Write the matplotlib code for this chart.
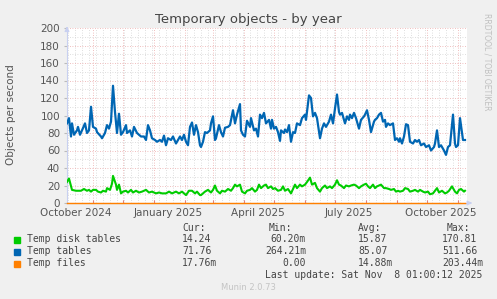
import numpy as np
import pandas as pd
import matplotlib
matplotlib.use("Agg")
from matplotlib import pyplot as plt
import matplotlib.dates as mdates

# munin "by year" view: 400 days (days since start)
start = pd.Timestamp("2024-10-06")
end = pd.Timestamp("2025-11-10")

tables_days = [0, 2, 4, 5, 7, 10, 11, 13, 15, 18, 20, 22, 24, 26, 29, 30, 34, 35, 38, 40,
               42, 44, 46, 48, 50, 52, 54, 56, 59, 60, 63, 65, 67, 70, 72, 74, 77, 79, 81, 83,
               85, 88, 90, 93, 95, 97, 99, 101, 104, 106, 109, 111, 113, 115, 117, 119, 121, 123, 125, 127,
               129, 131, 133,
               134, 136, 138, 140, 143, 144, 146, 148, 149, 152, 154, 156, 158, 161, 163, 166, 168, 170, 173, 174,
               176, 178, 180, 183, 184, 187, 189, 191, 193, 195, 197, 199, 202, 204, 205, 207, 209, 211, 213, 214,
               217, 218, 220, 222, 224, 226, 228, 230, 233, 235, 238, 239, 242, 244, 246, 248, 250, 253, 255, 257,
               259, 262, 264, 266, 268,
               270, 272, 273, 275, 277, 278, 280, 282, 283, 285, 287, 289, 291, 292, 294, 297, 298, 300, 302, 304,
               307, 308, 310, 312, 314, 316, 318, 319, 321, 323, 326, 328, 330, 332, 333, 335, 337, 339, 341, 343,
               346, 348, 350, 352, 354, 357, 359, 362, 364, 367, 368, 370, 372, 374, 377, 379, 381, 383, 386, 388,
               389, 391, 393, 396, 398]
tables = [91, 97, 76, 91, 78, 83, 87, 78, 83, 91, 80, 83, 110, 87, 85, 81, 76, 74, 80, 89,
          85, 93, 134, 104, 80, 102, 78, 81, 89, 80, 83, 76, 87, 80, 78, 76, 76, 72, 89, 83,
          74, 72, 70, 72, 70, 77, 66, 74, 72, 76, 68, 72, 76, 72, 78, 70, 66, 87, 92, 78,
          89, 81, 66,
          64, 70, 81, 80, 83, 91, 99, 72, 74, 89, 81, 76, 86, 87, 89, 106, 91, 101, 113, 83,
          78, 76, 94, 87, 97, 83, 85, 76, 101, 97, 103, 91, 95, 85, 95, 85, 87, 81, 71, 83,
          80, 84, 81, 89, 70, 81, 80, 91, 89, 97, 101, 95, 123, 120, 99, 103, 97, 74, 85, 91,
          87, 93, 101, 91, 108,
          124, 104, 101, 103, 95, 91, 99, 95, 101, 97, 103, 97, 89, 85, 95, 99, 101, 106, 95, 81,
          93, 95, 97, 101, 103, 93, 95, 87, 91, 89, 91, 72, 74, 70, 74, 68, 76, 90, 89, 70,
          68, 72, 70, 72, 66, 68, 64, 66, 60, 64, 68, 83, 64, 66, 60, 55, 64, 66, 101, 68,
          64, 66, 97, 72, 72]

disk_days = [0, 2, 4, 5, 9, 14, 17, 20, 22, 24, 26, 29, 31, 34, 36, 39, 40, 43, 45, 46,
             49, 50, 52, 54, 56, 59, 61, 64, 66, 69, 72, 75, 79, 82, 85, 89, 92, 95, 99, 102,
             105, 109, 112, 115, 119, 122, 125, 128, 130, 133,
             134, 138, 141, 144, 146, 148, 150, 153, 155, 158, 161, 164, 166, 168, 170, 173, 175, 178, 180, 183,
             185, 188, 190, 192, 194, 197, 199, 201, 204, 206, 208, 211, 214, 216, 218, 221, 224, 226, 228, 230,
             233, 235, 238, 240, 243, 245, 248, 250, 253, 255, 258, 260, 263, 265, 268,
             270, 272, 274, 277, 279, 282, 284, 287, 289, 292, 294, 297, 299, 301, 303, 306, 308, 310, 312, 314,
             317, 319, 322, 324, 327, 329, 331, 333, 336, 338, 341, 343, 346, 348, 351, 353, 356, 358, 361, 363,
             366, 368, 370, 372, 375, 378, 380, 382, 385, 388, 390, 392, 394, 397, 398]
disk = [24, 28, 19, 15, 14, 14, 16, 14, 15, 13, 15, 15, 13, 12, 14, 13, 17, 15, 22, 31,
        21, 15, 21, 11, 13, 14, 12, 15, 12, 14, 12, 13, 15, 12, 13, 11, 12, 11, 11, 13,
        11, 13, 11, 13, 9, 14, 14, 11, 13, 9,
        9, 13, 15, 12, 15, 20, 14, 11, 14, 13, 16, 14, 17, 21, 19, 21, 13, 11, 14, 15,
        17, 13, 15, 21, 17, 20, 21, 17, 19, 16, 17, 14, 15, 19, 14, 16, 11, 16, 21, 17,
        21, 19, 21, 24, 29, 21, 23, 17, 13, 17, 20, 17, 19, 17, 21,
        26, 21, 20, 17, 20, 19, 20, 21, 20, 17, 19, 21, 22, 19, 17, 21, 17, 19, 20, 21,
        17, 17, 16, 15, 16, 13, 14, 13, 14, 17, 16, 13, 14, 15, 13, 15, 13, 12, 13, 10,
        11, 14, 17, 12, 14, 11, 12, 14, 19, 13, 11, 15, 16, 13, 14]

# temp files stay at ~0 the whole time
files_days = [0, 398]
files = [0.0, 0.0]

names = ["Temp disk tables", "Temp tables", "Temp files"]
colors = ["#00CC00", "#0066B3", "#FF8000"]
cur = ["14.24", "71.76", "17.76m"]
mins = ["60.20m", "264.21m", "0.00"]
avgs = ["15.87", "85.07", "14.88m"]
maxs = ["170.81", "511.66", "203.44m"]
month_labels = ["October 2024", "January 2025", "April 2025", "July 2025", "October 2025"]
label_dates = ["2024-10-15", "2025-01-15", "2025-04-15", "2025-07-15", "2025-10-15"]


def to_dates(days):
    return start + pd.to_timedelta(days, unit="D")


W, H = 497, 299
fig = plt.figure(figsize=(W / 100, H / 100), dpi=100, facecolor="#F0F0F0")
ax = fig.add_axes([67 / W, 96 / H, 400 / W, 175 / H])
ax.set_facecolor("white")

ax.set_xlim(start, end)
ax.set_ylim(0, 200)

# grid: red dotted major, grey dotted minor
ax.xaxis.set_major_locator(mdates.MonthLocator())
ax.xaxis.set_minor_locator(mdates.WeekdayLocator(byweekday=mdates.MO))
ax.xaxis.set_major_formatter(plt.NullFormatter())
ax.set_yticks(np.arange(0, 201, 20))
ax.set_yticks(np.arange(0, 201, 10), minor=True)
ax.grid(which="minor", color="#D4D4D4", linestyle=(0, (1, 2)), linewidth=0.6)
ax.grid(which="major", color="#EBA9A9", linestyle=(0, (1, 2)), linewidth=0.6)
ax.set_axisbelow(True)

ax.tick_params(axis="y", which="major", labelsize=7.5, labelcolor="#555555", color="#BBBBBB",
               length=2, pad=3)
ax.tick_params(axis="y", which="minor", length=0)
ax.tick_params(axis="x", which="major", color="#E08080", length=2, direction="in")
ax.tick_params(axis="x", which="minor", length=0)

for s in ["top", "right"]:
    ax.spines[s].set_visible(False)
ax.spines["left"].set_color("#C8D0F0")
ax.spines["bottom"].set_color("#D8A090")

# the data
ax.plot(to_dates(disk_days), disk, color=colors[0], linewidth=1.5, zorder=3)
ax.plot(to_dates(tables_days), tables, color=colors[1], linewidth=1.6, zorder=3)
ax.plot(to_dates(files_days), files, color=colors[2], linewidth=1.0, zorder=3, clip_on=False)

# month labels sit mid-month under the axis
xtr = ax.get_xaxis_transform()
for d, lab in zip(label_dates, month_labels):
    ax.text(pd.Timestamp(d), -10.5 / 175, lab, transform=xtr, ha="center", va="center",
            fontsize=7.5, color="#555555")

# axis arrows
ax.annotate("", xy=(0, 1.025), xytext=(0, 0.98), xycoords="axes fraction",
            arrowprops=dict(arrowstyle="-|>", color="#C8D0F0", lw=0.8, mutation_scale=7))
ax.annotate("", xy=(1.02, 0), xytext=(1.0, 0), xycoords="axes fraction",
            arrowprops=dict(arrowstyle="-|>", color="#C8D0F0", lw=0.8, mutation_scale=7))

fig.text(248 / W, 1 - 19 / H, "Temporary objects - by year", ha="center", va="center",
         fontsize=9.5, color="#444444")
fig.text(11 / W, 1 - 115 / H, "Objects per second", rotation=90, ha="center", va="center",
         fontsize=7.5, color="#555555")
fig.text(487 / W, 1 - 62 / H, "RRDTOOL / TOBI OETIKER", rotation=270, ha="center", va="center",
         fontsize=5.5, color="#C0C0C0")

# legend block (monospace like rrdtool)
mono = dict(family="DejaVu Sans Mono", fontsize=7, color="#444444", va="center")
fig.text(182 / W, 1 - 228 / H, "Cur:", **mono)
fig.text(269 / W, 1 - 228 / H, "Min:", **mono)
fig.text(358 / W, 1 - 228 / H, "Avg:", **mono)
fig.text(447 / W, 1 - 228 / H, "Max:", **mono)
rows_y = [239.5, 251.5, 263.5]
for i in range(3):
    y = 1 - rows_y[i] / H
    fig.patches.append(plt.Rectangle((14 / W, y - 3 / H), 6 / W, 6 / H, color=colors[i],
                                     transform=fig.transFigure, figure=fig))
    fig.text(27 / W, y, names[i], **mono)
    fig.text(182 / W, y, cur[i], **mono)
    fig.text(306 / W, y, mins[i], ha="right", **mono)
    fig.text(358 / W, y, avgs[i], **mono)
    fig.text(442 / W, y, maxs[i], **mono)
fig.text(482 / W, 1 - 275.5 / H, "Last update: Sat Nov  8 01:00:12 2025", ha="right", **mono)
fig.text(248 / W, 1 - 288 / H, "Munin 2.0.73", ha="center", va="center", fontsize=6, color="#C4C4C4")

plt.savefig("out.png", dpi=100, facecolor=fig.get_facecolor())
